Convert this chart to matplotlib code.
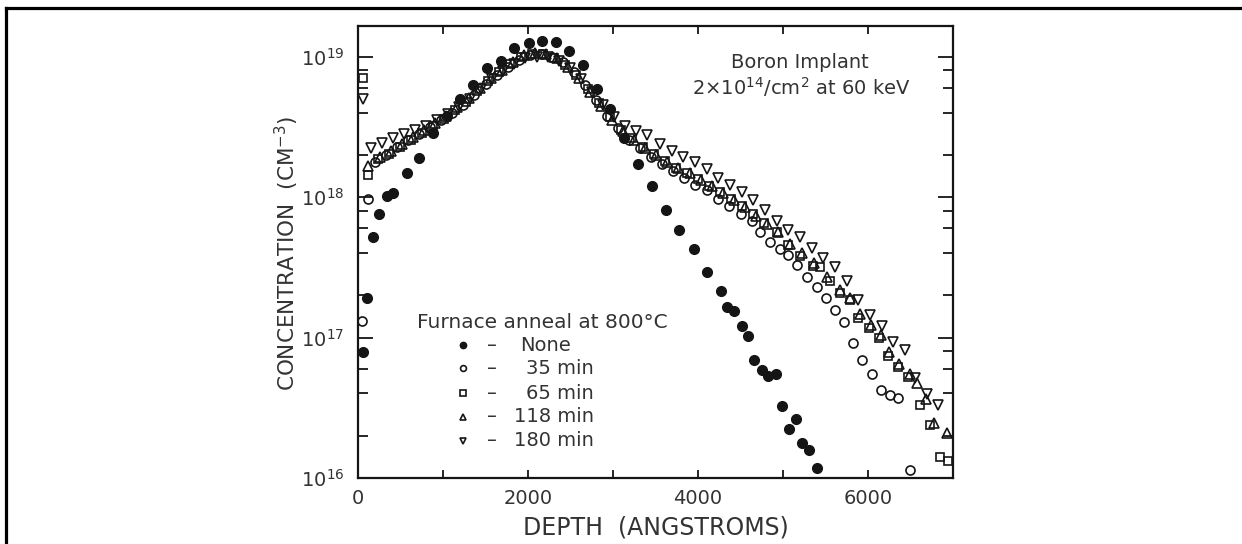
import numpy as np
import matplotlib
matplotlib.use('Agg')
import matplotlib.pyplot as plt
from matplotlib.lines import Line2D
from matplotlib.ticker import FixedLocator, LogLocator, NullFormatter

plt.rcParams['font.family'] = ['DejaVu Sans']
plt.rcParams['mathtext.fontset'] = 'dejavusans'

TXT = '#333333'
INK = '#151515'

# ---------------- data (depth in Angstrom, log10 of concentration in cm^-3) ----------------
none_depth = [55, 100, 173, 251, 337, 416, 573, 721, 886, 1043, 1200, 1357, 1514, 1678,
              1840, 2010, 2161, 2329, 2486, 2651, 2808, 2965, 3125, 3290, 3455, 3624,
              3780, 3953, 4102, 4267, 4345, 4427, 4514, 4592, 4663, 4749, 4827, 4918,
              4992, 5074, 5153, 5220, 5310, 5396]
none_log = [16.90, 17.28, 17.72, 17.88, 18.01, 18.03, 18.17, 18.28, 18.46, 18.58, 18.70,
            18.80, 18.92, 18.97, 19.06, 19.10, 19.11, 19.105, 19.04, 18.94, 18.77, 18.63,
            18.42, 18.24, 18.08, 17.91, 17.77, 17.63, 17.47, 17.33, 17.22, 17.19, 17.08,
            17.01, 16.84, 16.77, 16.73, 16.74, 16.51, 16.35, 16.42, 16.25, 16.20, 16.07]

m35_depth = [50, 120, 200, 330, 460, 590, 720, 850, 980, 1110, 1240, 1370, 1500, 1630,
             1760, 1890, 2020, 2150, 2280, 2410, 2540, 2670, 2800, 2930, 3060, 3190,
             3320, 3450, 3580, 3710, 3840, 3970, 4100, 4230, 4360, 4500, 4631, 4729,
             4847, 4965, 5063, 5161, 5278, 5396, 5506, 5612, 5718, 5827, 5926, 6043,
             6153, 6259, 6357, 6494]
m35_log = [17.12, 17.99, 18.25, 18.30, 18.36, 18.41, 18.45, 18.50, 18.55, 18.60, 18.66,
           18.73, 18.81, 18.87, 18.93, 18.98, 19.01, 19.02, 19.00, 18.96, 18.89, 18.80,
           18.69, 18.58, 18.49, 18.41, 18.35, 18.29, 18.24, 18.19, 18.14, 18.09, 18.05,
           17.99, 17.94, 17.88, 17.83, 17.75, 17.68, 17.63, 17.59, 17.52, 17.43, 17.36,
           17.28, 17.20, 17.11, 16.96, 16.84, 16.74, 16.63, 16.59, 16.57, 16.06]

m65_depth = [55, 120, 230, 360, 490, 620, 750, 880, 1010, 1140, 1270, 1400, 1530, 1660,
             1790, 1920, 2050, 2180, 2310, 2440, 2570, 2700, 2830, 2960, 3090, 3220,
             3350, 3480, 3610, 3740, 3870, 4000, 4130, 4260, 4390, 4520, 4650, 4780,
             4925, 5059, 5200, 5353, 5435, 5553, 5671, 5788, 5886, 6016, 6133, 6239,
             6357, 6475, 6612, 6729, 6847, 6945]
m65_log = [18.85, 18.16, 18.27, 18.31, 18.36, 18.41, 18.46, 18.51, 18.56, 18.62, 18.68,
           18.76, 18.83, 18.89, 18.95, 19.00, 19.02, 19.02, 18.99, 18.94, 18.87, 18.77,
           18.67, 18.57, 18.48, 18.42, 18.36, 18.31, 18.26, 18.21, 18.17, 18.13, 18.08,
           18.04, 17.99, 17.94, 17.88, 17.82, 17.75, 17.66, 17.58, 17.51, 17.50, 17.40,
           17.32, 17.27, 17.14, 17.07, 17.00, 16.87, 16.79, 16.72, 16.52, 16.38, 16.15,
           16.12]

m118_depth = [120, 260, 390, 520, 650, 780, 910, 1040, 1170, 1300, 1430, 1560, 1690,
              1820, 1950, 2080, 2210, 2340, 2470, 2600, 2730, 2860, 2990, 3120, 3250,
              3380, 3510, 3640, 3770, 3900, 4030, 4160, 4290, 4420, 4550, 4680, 4810,
              4940, 5080, 5220, 5370, 5520, 5671, 5788, 5900, 6030, 6150, 6250, 6370,
              6490, 6580, 6680, 6776, 6925]
m118_log = [18.22, 18.29, 18.33, 18.38, 18.43, 18.48, 18.53, 18.58, 18.64, 18.71, 18.78,
            18.85, 18.91, 18.96, 19.01, 19.03, 19.02, 18.99, 18.93, 18.85, 18.75, 18.65,
            18.55, 18.47, 18.41, 18.35, 18.30, 18.25, 18.21, 18.17, 18.12, 18.08, 18.03,
            17.98, 17.93, 17.87, 17.81, 17.75, 17.67, 17.60, 17.53, 17.43, 17.34, 17.28,
            17.17, 17.09, 17.02, 16.90, 16.81, 16.74, 16.68, 16.56, 16.39, 16.32]

m180_depth = [55, 150, 280, 410, 540, 670, 800, 930, 1060, 1190, 1320, 1450, 1580, 1710,
              1840, 1970, 2100, 2230, 2360, 2490, 2620, 2750, 2880, 3010, 3140, 3270,
              3400, 3553, 3690, 3827, 3965, 4102, 4239, 4376, 4514, 4651, 4788, 4925,
              5063, 5200, 5337, 5474, 5612, 5749, 5886, 6024, 6161, 6298, 6435, 6553,
              6690, 6827]
m180_log = [18.70, 18.35, 18.39, 18.42, 18.45, 18.48, 18.51, 18.55, 18.59, 18.64, 18.70,
            18.77, 18.84, 18.90, 18.95, 18.99, 19.00, 19.00, 18.97, 18.92, 18.84, 18.75,
            18.66, 18.57, 18.51, 18.47, 18.44, 18.38, 18.33, 18.29, 18.25, 18.20, 18.14,
            18.09, 18.04, 17.98, 17.91, 17.83, 17.77, 17.72, 17.64, 17.57, 17.50, 17.40,
            17.27, 17.16, 17.08, 16.97, 16.91, 16.71, 16.60, 16.52]

legend_labels = ['None', '35 min', '65 min', '118 min', '180 min']

# ---------------- figure ----------------
fig = plt.figure(figsize=(12.42, 5.44), dpi=100)
W, H = 1242.0, 544.0
ax = fig.add_axes([358 / W, 1 - 478 / H, (953 - 358) / W, (478 - 26) / H])
ax.set_yscale('log')
ax.set_xlim(0, 7000)
ax.set_ylim(1e16, 10 ** 19.22)

series = [
    (none_depth, none_log, dict(marker='o', ms=7, mfc=INK, mec=INK, mew=1.0)),
    (m35_depth, m35_log, dict(marker='o', ms=6.5, mfc='none', mec=INK, mew=1.2)),
    (m65_depth, m65_log, dict(marker='s', ms=6.0, mfc='none', mec=INK, mew=1.2)),
    (m118_depth, m118_log, dict(marker='^', ms=7.0, mfc='none', mec=INK, mew=1.2)),
    (m180_depth, m180_log, dict(marker='v', ms=7.0, mfc='none', mec=INK, mew=1.2)),
]
for d, lg, style in series:
    ax.plot(d, 10.0 ** np.asarray(lg), ls='none', clip_on=False, zorder=3, **style)

# ticks
ax.xaxis.set_major_locator(FixedLocator([0, 2000, 4000, 6000]))
ax.xaxis.set_minor_locator(FixedLocator([1000, 3000, 5000]))
ax.yaxis.set_major_locator(LogLocator(base=10, numticks=10))
ax.yaxis.set_minor_locator(LogLocator(base=10, subs=[2, 4, 6, 8], numticks=20))
ax.yaxis.set_minor_formatter(NullFormatter())
ax.tick_params(axis='x', which='both', direction='in', top=True, length=6, width=1.3,
               labelsize=14, pad=8, labelcolor=TXT, color=INK)
ax.tick_params(axis='y', which='major', direction='in', right=True, length=11, width=1.3,
               labelsize=14, pad=10, labelcolor=TXT, color=INK)
ax.tick_params(axis='y', which='minor', direction='in', right=True, length=7, width=1.3,
               color=INK)
for sp in ax.spines.values():
    sp.set_linewidth(1.6)
    sp.set_color(INK)

# axis labels
fig.text(287 / W, 1 - 253 / H, 'CONCENTRATION  (CM$^{-3}$)', rotation=90,
         ha='center', va='center', fontsize=15.5, color=TXT)
fig.text(656 / W, 1 - 528 / H, 'DEPTH  (ANGSTROMS)', ha='center', va='center',
         fontsize=17, color=TXT)

# annotation
ax.text(0.743, 0.920, 'Boron Implant', transform=ax.transAxes, ha='center',
        va='center', fontsize=14, color=TXT)
ax.text(0.745, 0.866, r'2$\times$10$^{14}$/cm$^{2}$ at 60 keV', transform=ax.transAxes,
        ha='center', va='center', fontsize=14, color=TXT)

# legend (hand-drawn like the original)
ax.text(0.099, 0.345, 'Furnace anneal at 800\u00b0C', transform=ax.transAxes,
        ha='left', va='center', fontsize=14.5, color=TXT)
leg_y = [0.294, 0.243, 0.188, 0.135, 0.082]
for (d, lg, style), lab, yy in zip(series, legend_labels, leg_y):
    st = dict(style)
    st['ms'] = st['ms'] * 0.65
    ax.plot([0.1765], [yy], transform=ax.transAxes, ls='none', clip_on=False, **st)
    ax.text(0.225, yy, '\u2013', transform=ax.transAxes, ha='center', va='center',
            fontsize=14, color=TXT)
    if lab == 'None':
        ax.text(0.272, yy, lab, transform=ax.transAxes, ha='left', va='center',
                fontsize=14, color=TXT)
    else:
        ax.text(0.397, yy, lab, transform=ax.transAxes, ha='right', va='center',
                fontsize=14, color=TXT)

# outer frame of the scanned page
fig.add_artist(Line2D([6 / W, 1.0], [1 - 8 / H, 1 - 8 / H], transform=fig.transFigure,
                      color='black', lw=2.3))
fig.add_artist(Line2D([6 / W, 6 / W], [0.0, 1 - 8 / H], transform=fig.transFigure,
                      color='black', lw=2.3))

fig.savefig('out.png', dpi=100, facecolor='white')
